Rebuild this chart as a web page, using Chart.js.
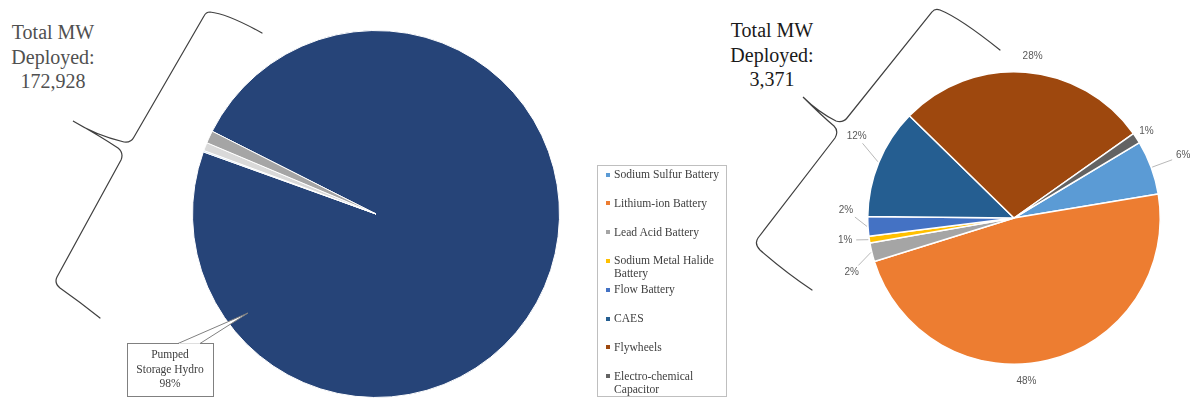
<!DOCTYPE html>
<html lang="en">
<head>
<meta charset="UTF-8">
<title>Energy storage MW deployed</title>
<script src="https://cdn.jsdelivr.net/npm/chart.js"></script>
<style>
  body {
    margin: 0;
    width: 1190px;
    height: 398px;
    background: #fff;
    position: relative;
    overflow: hidden;
    font-family: "Liberation Serif", "Times New Roman", serif;
  }
  .box { position: absolute; }
  .total {
    position: absolute;
    text-align: center;
    font-size: 20px;
    line-height: 24.5px;
    white-space: nowrap;
  }
  #legend {
    position: absolute;
    left: 597px; top: 165px;
    width: 130px; height: 232px;
    border: 1px solid #bfbfbf;
    box-sizing: border-box;
  }
  .item {
    position: absolute;
    left: 16px;
    width: 112px;
    font-size: 11.6px;
    line-height: 13px;
    color: #404040;
  }
  .item i {
    position: absolute;
    left: -8px; top: 4.5px;
    width: 4px; height: 4px;
  }
  svg { position: absolute; left: 0; top: 0; }
  .callout {
    position: absolute;
    left: 127px; top: 347px;
    width: 86px;
    text-align: center;
    font-size: 11.5px;
    line-height: 14.5px;
    color: #404040;
  }
</style>
</head>
<body>

<div class="total" style="left:3px; top:20px; width:100px; color:#505050;">Total MW<br>Deployed:<br><span id="totalLeft"></span></div>
<div class="total" style="left:722px; top:18px; width:100px; color:#1a1a1a;">Total MW<br>Deployed:<br><span id="totalRight"></span></div>

<div class="box" style="left:192px; top:30px;"><canvas id="left" width="368" height="368"></canvas></div>
<div class="box" style="left:820px; top:40px;"><canvas id="right" width="370" height="358"></canvas></div>

<svg width="1190" height="398">
  <g fill="none" stroke="#404040" stroke-width="1.2" stroke-linecap="round">
    <path d="M262,33 Q228,14 210,12 Q206,12 204,16 L134,137 Q131,143 124,142 Q95,135 73,121 Q100,136 118,148 Q124,153 121,160 L57,277 Q54,283 60,288 Q80,302 100,318"/>
    <path d="M1000,50 Q960,18 940,10 Q935,8 932,12 L847,118 Q843,123 836,121 Q818,112 803,97 Q822,116 834,126 Q839,131 835,138 L758,238 Q754,244 760,250 Q785,272 812,290"/>
  </g>
  <path d="M178,343.5 L248,313 L200,343.5" fill="#fff" stroke="#808080" stroke-width="1"/>
  <rect x="127.5" y="343.5" width="86" height="53" fill="#fff" stroke="#808080" stroke-width="1"/>
  <path d="M179,344 L200,344" stroke="#fff" stroke-width="1.5"/>
</svg>
<div class="callout" id="callout"></div>

<div id="legend"></div>

<script>
// left chart: all technologies
const leftLabels = ['Pumped Storage Hydro', 'Thermal Storage', 'Electro-mechanical', 'Electro-chemical'];
const leftValues = [169558, 220, 1250, 1900];
const leftColors = ['#264478', '#bdd7ee', '#d9d9d9', '#a5a5a5'];

// right chart: non pumped hydro technologies
const rightLabels = ['Sodium Sulfur Battery', 'Lithium-ion Battery', 'Lead Acid Battery',
  'Sodium Metal Halide Battery', 'Flow Battery', 'CAES', 'Flywheels', 'Electro-chemical Capacitor'];
const rightValues = [202, 1612, 70, 25, 72, 410, 940, 40];
const rightColors = ['#5b9bd5', '#ed7d31', '#a5a5a5', '#ffc000', '#4472c4', '#255e91', '#9e480e', '#636363'];

// where each percent label sits: extra distance past the rim, angle nudge (deg), leader line
const labelPlace = [
  { d: 34, a: 0, line: true },
  { d: 17, a: 9, line: false },
  { d: 25, a: -5, line: true },
  { d: 24, a: 1, line: true },
  { d: 22, a: 6, line: true },
  { d: 31, a: 5, line: true },
  { d: 17, a: 2, line: false },
  { d: 12, a: 0, line: false }
];

const sum = arr => arr.reduce((a, b) => a + b, 0);

document.getElementById('totalLeft').textContent = sum(leftValues).toLocaleString('en-US');
document.getElementById('totalRight').textContent = sum(rightValues).toLocaleString('en-US');
document.getElementById('callout').innerHTML =
  'Pumped<br>Storage Hydro<br>' + Math.round(leftValues[0] / sum(leftValues) * 100) + '%';

// legend
const legend = document.getElementById('legend');
rightLabels.forEach((name, i) => {
  const div = document.createElement('div');
  div.className = 'item';
  div.style.top = (2 + i * 28.8) + 'px';
  div.innerHTML = '<i style="background:' + rightColors[i] + '"></i>' + name;
  legend.appendChild(div);
});

const sliceLabels = {
  id: 'sliceLabels',
  afterDatasetsDraw(chart, args, opts) {
    if (!opts.place) return;
    const ctx = chart.ctx;
    const values = chart.data.datasets[0].data;
    const total = sum(values);
    ctx.save();
    ctx.font = '10px "Liberation Sans", Arial, sans-serif';
    ctx.textAlign = 'center';
    ctx.textBaseline = 'middle';
    chart.getDatasetMeta(0).data.forEach((arc, i) => {
      const p = opts.place[i];
      const { x, y, startAngle, endAngle, outerRadius } =
        arc.getProps(['x', 'y', 'startAngle', 'endAngle', 'outerRadius'], true);
      const m0 = (startAngle + endAngle) / 2;
      const m = m0 + p.a * Math.PI / 180;
      const lx = x + Math.cos(m) * (outerRadius + p.d);
      const ly = y + Math.sin(m) * (outerRadius + p.d);
      if (p.line) {
        const ax = x + Math.cos(m0) * (outerRadius + 1);
        const ay = y + Math.sin(m0) * (outerRadius + 1);
        const dx = ax - lx, dy = ay - ly;
        const t = Math.min(11 / Math.abs(dx || 1e-6), 7 / Math.abs(dy || 1e-6));
        ctx.strokeStyle = '#a6a6a6';
        ctx.lineWidth = 0.8;
        ctx.beginPath();
        ctx.moveTo(lx + dx * t, ly + dy * t);
        ctx.lineTo(ax, ay);
        ctx.stroke();
      }
      ctx.fillStyle = '#595959';
      ctx.fillText(Math.round(values[i] / total * 100) + '%', lx, ly);
    });
    ctx.restore();
  }
};

const baseOptions = (rotation, padding, place) => ({
  responsive: false,
  animation: false,
  events: [],
  rotation: rotation,
  layout: { padding: padding },
  plugins: {
    legend: { display: false },
    tooltip: { enabled: false },
    sliceLabels: { place: place }
  }
});

new Chart(document.getElementById('left'), {
  type: 'pie',
  data: {
    labels: leftLabels,
    datasets: [{ data: leftValues, backgroundColor: leftColors, borderColor: '#fff', borderWidth: 1, hoverOffset: 0 }]
  },
  options: baseOptions(296.8, 0, null),
  plugins: [sliceLabels]
});

new Chart(document.getElementById('right'), {
  type: 'pie',
  data: {
    labels: rightLabels,
    datasets: [{ data: rightValues, backgroundColor: rightColors, borderColor: '#fff', borderWidth: 1.5, hoverOffset: 0 }]
  },
  options: baseOptions(59, { left: 47, right: 29, top: 31, bottom: 33 }, labelPlace),
  plugins: [sliceLabels]
});
</script>
</body>
</html>
